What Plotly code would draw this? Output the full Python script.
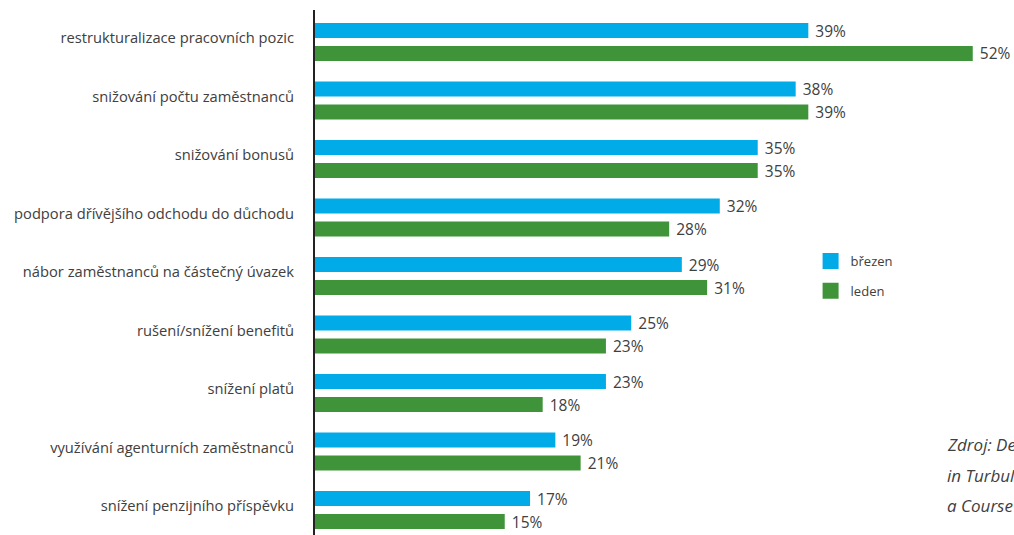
import plotly.graph_objects as go

categories = [
    "restrukturalizace pracovních pozic",
    "snižování počtu zaměstnanců",
    "snižování bonusů",
    "podpora dřívějšího odchodu do důchodu",
    "nábor zaměstnanců na částečný úvazek",
    "rušení/snížení benefitů",
    "snížení platů",
    "využívání agenturních zaměstnanců",
    "snížení penzijního příspěvku",
]
brezen = [39, 38, 35, 32, 29, 25, 23, 19, 17]
leden = [52, 39, 35, 28, 31, 23, 18, 21, 15]
series_names = ["březen", "leden"]
source_lines = ["Zdroj: Deloitte", "in Turbulent Times", "a Course Correction"]

BLUE = "#00ABE8"
GREEN = "#3F943A"
TXT = "#404040"
FONT = "Open Sans"

fig = go.Figure()
for name, vals, col in [(series_names[0], brezen, BLUE), (series_names[1], leden, GREEN)]:
    fig.add_trace(go.Bar(
        y=categories, x=vals, name=name, orientation="h",
        marker=dict(color=col, line=dict(width=0)),
        text=[f"\u00a0{v}%" for v in vals], textposition="outside",
        constraintext="none", cliponaxis=False,
        textfont=dict(family=FONT, size=15.5, color=TXT),
        showlegend=False,
    ))
# legend entries with larger square swatches
for name, col in [(series_names[0], BLUE), (series_names[1], GREEN)]:
    fig.add_trace(go.Scatter(
        x=[None], y=[None], mode="markers", name=name,
        marker=dict(symbol="square", size=16, color=col),
        legendgroup=name,
    ))

fig.update_layout(
    width=1014, height=535,
    margin=dict(l=315, r=0, t=10, b=0),
    paper_bgcolor="white", plot_bgcolor="white",
    barmode="group", bargap=0.214, bargroupgap=0.35,
    font=dict(family=FONT, size=14, color=TXT),
    showlegend=True,
    legend=dict(
        x=0.709, y=0.5506, xanchor="left", yanchor="top",
        font=dict(family=FONT, size=13, color=TXT),
        tracegroupgap=10, bgcolor="rgba(0,0,0,0)", itemsizing="trace",
    ),
    xaxis=dict(range=[0, 55.26], showgrid=False, zeroline=False,
               showticklabels=False, showline=False, ticks=""),
    yaxis=dict(range=[8.427, -0.547], showgrid=False, zeroline=False,
               showline=True, linecolor="#222222", linewidth=2,
               ticks="", ticklabelstandoff=16, ticklabelshift=4,
               tickfont=dict(family=FONT, size=14.7, color=TXT)),
)

for i, line in enumerate(source_lines):
    fig.add_annotation(
        xref="paper", yref="paper", x=(945 - 315) / 699, y=(535 - 445 - i * 30) / 525,
        xanchor="left", yanchor="middle", showarrow=False,
        text=f"<i>{line}</i>", font=dict(family=FONT, size=17, color=TXT),
    )

fig.write_html("out.html")
